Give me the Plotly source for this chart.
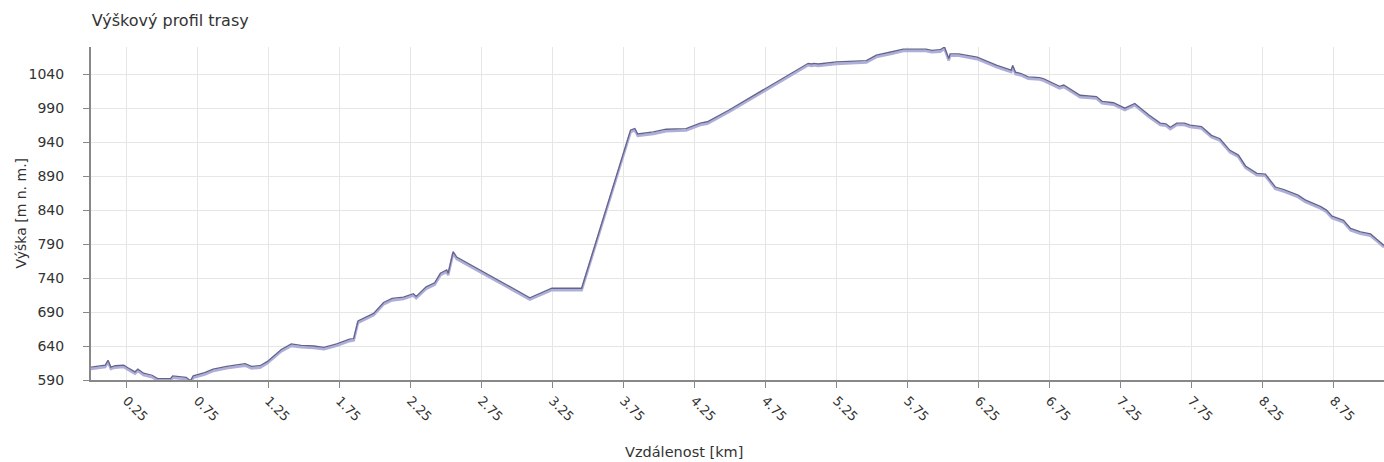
import plotly.graph_objects as go

distance_km = [0.0, 0.10, 0.12, 0.14, 0.17, 0.23, 0.26, 0.31, 0.33, 0.37, 0.43, 0.47, 0.56, 0.575,
               0.67, 0.70, 0.72, 0.80, 0.86, 0.955, 1.085, 1.13, 1.19, 1.24, 1.34, 1.41, 1.48, 1.57,
               1.64, 1.73, 1.82, 1.85, 1.88, 1.99, 2.06, 2.12, 2.20, 2.27, 2.29, 2.36, 2.42, 2.46,
               2.505, 2.515, 2.55, 2.575, 3.09, 3.245, 3.455, 3.80, 3.83, 3.85, 3.96, 4.05, 4.19,
               4.29, 4.34, 4.49, 4.75, 5.05, 5.075, 5.09, 5.12, 5.25, 5.46, 5.53, 5.64, 5.72, 5.88,
               5.92, 5.98, 6.01, 6.04, 6.05, 6.11, 6.24, 6.38, 6.48, 6.49, 6.51, 6.55, 6.60, 6.68,
               6.71, 6.82, 6.85, 6.965, 7.08, 7.12, 7.20, 7.28, 7.35, 7.45, 7.53, 7.57, 7.60, 7.645,
               7.70, 7.74, 7.82, 7.89, 7.95, 8.02, 8.08, 8.13, 8.21, 8.27, 8.34, 8.40, 8.50, 8.55,
               8.66, 8.70, 8.74, 8.82, 8.87, 8.94, 9.01, 9.05, 9.105]
elevation_m = [609, 612, 619, 609, 611, 612, 608, 602, 606, 600, 597, 592, 592, 596,
               594, 589, 596, 601, 606, 610, 614, 610, 611, 617, 635, 643, 641, 640,
               638, 643, 650, 651, 677, 688, 704, 710, 712, 717, 713, 727, 733, 747,
               752, 747, 779, 771, 711, 725, 725, 958, 960, 952, 955, 959, 960,
               968, 970, 987, 1019, 1056, 1055, 1056, 1055, 1058, 1060, 1068, 1073, 1077, 1077,
               1075, 1076, 1080, 1063, 1070, 1070, 1065, 1053, 1046, 1053, 1043, 1041, 1036, 1035,
               1033, 1022, 1024, 1009, 1007, 1000, 998, 990, 997, 980, 968, 967, 962, 968,
               968, 965, 963, 950, 945, 928, 921, 905, 894, 893, 874, 870, 862, 855,
               845, 840, 831, 825, 813, 808, 805, 798, 788]

y_ticks = [590, 640, 690, 740, 790, 840, 890, 940, 990, 1040]
x_ticks = [0.25, 0.75, 1.25, 1.75, 2.25, 2.75, 3.25, 3.75, 4.25, 4.75, 5.25, 5.75, 6.25,
           6.75, 7.25, 7.75, 8.25, 8.75]

FONT = "DejaVu Sans"
TXT = "#333333"
shadow_offset_m = 2.8

fig = go.Figure()
fig.add_trace(go.Scatter(
    x=distance_km, y=[v - shadow_offset_m for v in elevation_m], mode="lines",
    line=dict(color="#aeaedb", width=2.6), hoverinfo="skip", showlegend=False))
fig.add_trace(go.Scatter(
    x=distance_km, y=elevation_m, mode="lines",
    line=dict(color="#64648a", width=1.3), showlegend=False))

fig.update_layout(
    width=1384, height=462,
    margin=dict(l=91, r=0, t=47, b=82),
    paper_bgcolor="white", plot_bgcolor="white",
    font=dict(family=FONT, size=13, color=TXT),
    title=dict(text="Výškový profil trasy", x=0.0005, xanchor="left", xref="paper",
               y=1 - 20 / 462, yref="container", yanchor="middle",
               font=dict(family=FONT, size=16, color=TXT)),
    xaxis=dict(range=[0, 9.105], tickvals=x_ticks, ticktext=[f"{v:.2f}" for v in x_ticks],
               tickangle=45, showgrid=True, gridcolor="#e6e6e6", gridwidth=1,
               showline=True, linecolor="#888888", linewidth=2,
               ticks="outside", ticklen=6, tickcolor="#888888", tickwidth=1,
               zeroline=False, tickfont=dict(family=FONT, size=13, color=TXT)),
    yaxis=dict(range=[590, 1080], tickvals=y_ticks, showgrid=True, gridcolor="#e6e6e6",
               gridwidth=1, showline=True, linecolor="#888888", linewidth=2,
               ticks="outside", ticklen=6, tickcolor="#888888", tickwidth=1,
               zeroline=False, ticklabelstandoff=16,
               tickfont=dict(family=FONT, size=14, color=TXT)),
    annotations=[
        dict(text="Vzdálenost [km]", xref="paper", yref="paper",
             x=(684 - 91) / 1293, y=-(452 - 380) / 333, xanchor="center", yanchor="middle",
             showarrow=False, font=dict(family=FONT, size=14.5, color=TXT)),
        dict(text="Výška [m n. m.]", xref="paper", yref="paper", textangle=-90,
             x=(20 - 91) / 1293, y=0.5, xanchor="center", yanchor="middle",
             showarrow=False, font=dict(family=FONT, size=14, color=TXT)),
    ],
)

fig.write_html("out.html", config={"displayModeBar": False},
               post_script="document.body.style.margin='0';")
